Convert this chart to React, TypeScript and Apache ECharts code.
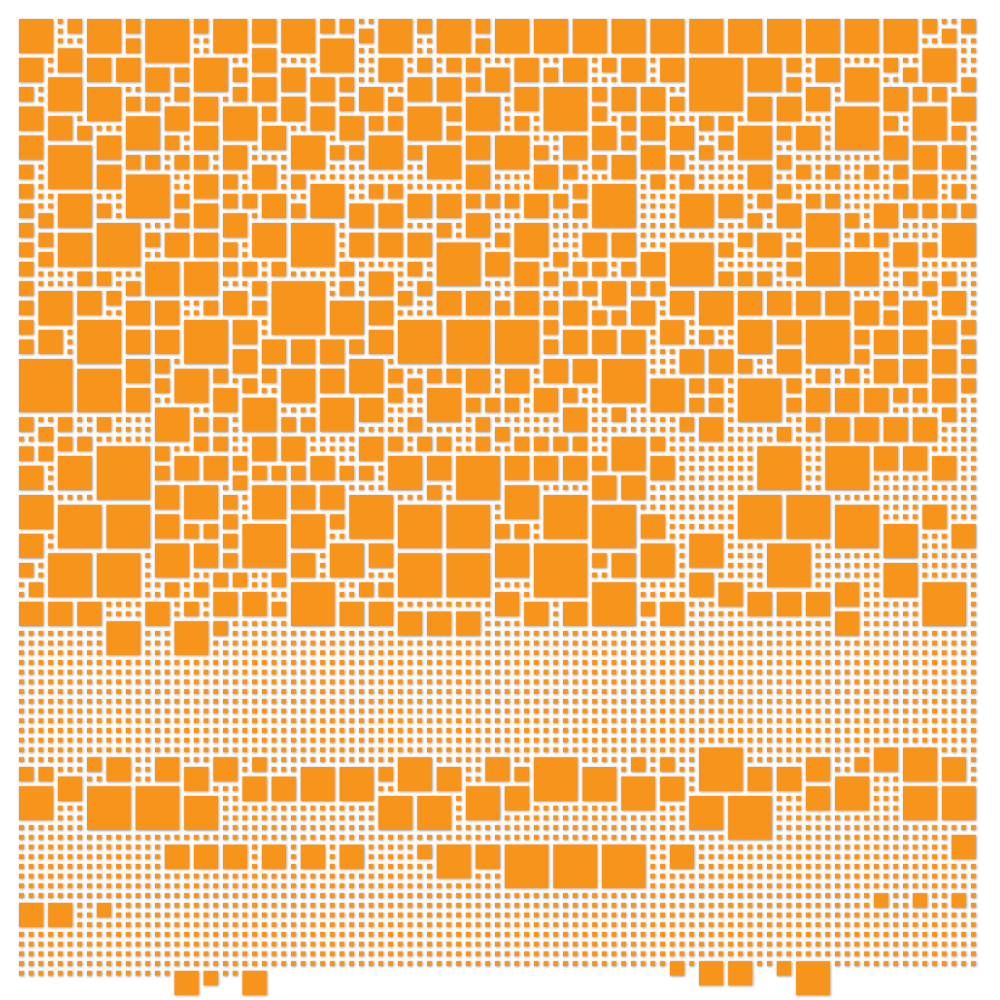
import React, { useEffect, useRef } from "react";
import * as echarts from "echarts";

// Grid geometry (cells)
const GRID_COLS = 99;
const FULL_ROWS = 98; // rows 0..97 fully filled with unit squares where free
const LAST_ROW = 98;
const LAST_ROW_UNIT_RANGES: [number, number][] = [[0, 15], [21, 22]];

// Larger squares: [col, row, size]
const squaresA: number[][] = [
  [0,0,4],[5,0,2],[7,0,4],[11,0,2],[11,2,2],[13,0,5],[18,0,2],[20,0,4],[24,0,3],[27,0,4],[31,0,2],[31,2,4],[24,3,3],[0,4,3],[4,3,3],[7,4,3],[10,4,3],[13,5,3],[16,5,2],[16,7,2],[18,4,4],[22,5,2],[22,7,2],[24,6,3],[27,5,3],[30,6,3],[0,7,2],[3,6,4],[7,7,4],[11,8,2],[13,8,2],[15,9,3],[18,8,3],[21,9,4],[25,9,2],[27,8,3],[30,9,3],[0,9,3],[3,10,3],[6,11,2],[11,10,4],[15,12,2],[18,11,3],[21,13,3],[25,11,3],[28,12,4],[32,13,2],[0,12,3],[3,13,5],[8,12,3],[11,14,2],[13,14,2],[16,14,2],[18,14,2],[24,15,3],[28,16,2],[30,17,4],[0,15,2],[8,15,3],[11,16,5],[18,16,3],[21,16,2],[0,17,2],[4,18,4],[8,19,2],[16,18,2],[18,19,3],[21,18,2],[23,18,2],[25,18,3],[28,19,2],[0,19,2],[2,20,2],[0,21,2],[8,21,5],[16,20,2],[21,20,3],[24,21,4],[28,21,5],
  [0,23,2],[2,22,2],[2,24,2],[4,22,4],[13,22,2],[15,22,3],[18,22,3],[21,23,2],[0,25,2],[6,26,2],[8,26,2],[13,25,4],[17,25,4],[21,25,2],[23,25,2],[26,25,2],[0,27,2],[11,27,2],[24,27,2],[26,27,6],[0,29,2],[2,28,4],[6,28,3],[9,28,2],[11,29,3],[14,29,3],[19,29,2],[21,28,3],[24,29,2],[0,31,2],[6,31,5],[11,32,3],[14,32,3],[17,31,5],[22,31,3],[0,33,2],[2,32,3],[25,33,3],[28,33,3],[31,33,3],[22,34,3],[0,35,6],[6,36,5],[11,35,3],[14,35,2],[11,38,3],[14,37,2],[16,36,4],[20,36,2],[20,38,3],[23,37,2],[25,36,2],[27,36,4],[31,36,3],[23,39,4],[14,40,4],[18,41,2],[20,41,2],[27,41,2],[29,41,2],[31,39,4],[0,41,2],[2,42,2],[4,41,2],[8,41,2],
  [0,44,2],[2,44,2],[4,43,2],[6,43,2],[8,44,6],[14,44,2],[18,43,2],[20,43,2],[24,43,3],[27,43,3],[0,46,3],[4,45,4],[14,46,2],[16,45,3],[19,45,3],[22,45,2],[22,47,2],[24,46,2],[26,46,2],[28,46,2],[30,45,3],[0,49,4],[4,50,5],[9,50,5],[14,48,3],[17,48,4],[21,49,2],[24,48,4],[28,48,3],[31,48,3],[14,51,3],[17,52,2],[19,52,2],[21,51,2],[21,53,2],[23,52,5],[28,51,4],[32,51,2],[0,53,3],[0,56,2],[3,55,5],[8,55,5],[14,54,4],[18,54,3],[21,55,2],[20,57,2],[22,57,2],[26,57,2],[28,55,3],[32,54,4],[1,58,2],[0,60,3],[3,60,3],[6,60,3],[9,62,4],[13,60,3],[15,58,2],[18,58,2],[17,60,2],[20,59,3],[23,59,3],[26,60,2],[28,58,5],[16,62,4],[20,62,2],
];

const squaresB: number[][] = [
  [33,0,2],[35,1,2],[37,0,4],[41,0,2],[43,0,4],[47,0,2],[47,2,2],[49,0,4],[53,0,4],[57,0,4],[61,0,4],[65,0,4],[37,4,3],[41,4,2],[44,4,2],[46,4,2],[48,5,3],[51,4,3],[54,5,2],[56,4,3],[60,4,2],[62,4,3],[33,6,2],[33,8,2],[35,7,3],[38,8,2],[40,6,3],[43,6,3],[46,6,2],[46,8,4],[51,7,3],[54,7,5],[59,7,2],[59,9,2],[61,7,3],[64,7,3],[33,10,3],[36,10,2],[38,10,2],[40,9,4],[44,9,2],[44,11,2],[51,10,2],[62,10,2],[64,10,3],[34,13,2],[36,12,4],[40,13,2],[42,13,4],[46,12,3],[49,12,4],[53,13,2],[56,12,3],[59,11,3],[62,12,2],[59,14,2],[61,14,3],[64,13,3],[46,15,3],[53,15,3],[56,15,2],[59,17,5],[36,17,2],[38,17,2],[57,17,2],[65,16,2],[34,19,3],[37,19,3],[40,18,3],[43,18,3],[46,18,2],[48,18,2],[50,18,2],[52,18,3],[55,18,2],[57,19,2],[46,20,3],[43,21,2],
  [34,22,3],[37,22,3],[40,22,3],[43,23,5],[48,24,3],[49,22,2],[51,21,4],[55,24,2],[58,22,3],[61,22,3],[64,24,3],[33,25,2],[36,26,3],[33,27,2],[40,25,2],[41,27,2],[39,28,2],[51,25,3],[54,26,2],[57,25,2],[59,25,2],[62,25,2],[43,28,3],[46,28,3],[49,29,2],[51,28,3],[54,29,2],[56,27,2],[58,27,2],[60,27,3],[63,27,2],[65,27,2],[56,29,3],[59,30,2],[61,30,2],[63,29,3],[32,29,4],[36,29,3],[39,31,5],[44,31,5],[49,31,5],[54,31,2],[54,33,2],[56,32,3],[59,32,3],[62,32,3],[34,33,2],[36,32,3],[34,35,4],[38,36,2],[38,38,2],[40,37,2],[42,36,2],[44,36,2],[42,38,4],[46,36,3],[50,36,3],[54,35,3],[57,35,3],[60,35,5],[53,38,3],[56,38,2],[46,39,2],[48,39,2],[50,39,2],[56,40,3],[61,40,2],[35,39,3],[40,41,2],[47,41,2],[49,42,2],
  [35,43,3],[38,43,2],[41,43,2],[43,43,2],[47,43,2],[51,43,2],[53,43,2],[55,43,2],[57,43,2],[61,43,4],[65,43,2],[33,46,2],[35,46,2],[38,45,4],[42,45,3],[45,45,5],[50,45,3],[53,45,3],[56,45,3],[59,45,2],[59,47,3],[62,47,3],[65,45,3],[34,49,5],[42,48,2],[50,48,4],[54,49,5],[59,50,5],[64,51,3],[39,50,5],[44,50,5],[49,52,2],[51,52,2],[32,51,2],[32,54,4],[36,54,3],[39,55,5],[44,55,5],[49,54,4],[53,54,6],[59,55,2],[61,55,3],[59,58,5],[35,58,2],[37,58,2],[33,60,3],[36,60,3],[39,61,3],[42,61,3],[45,61,3],[49,59,3],[52,60,3],[56,60,3],[64,60,2],
];

const squaresC: number[][] = [
  [69,0,4],[73,0,4],[77,0,4],[81,0,4],[85,0,4],[89,0,4],[93,0,2],[95,1,2],[97,0,2],[66,4,3],[69,4,6],[75,4,4],[79,4,2],[79,6,2],[82,4,3],[85,5,4],[89,4,2],[91,5,2],[93,3,4],[97,6,2],[67,8,2],[75,8,3],[78,8,3],[81,7,3],[89,7,3],[92,7,2],[94,7,2],[96,8,3],[84,9,5],[92,9,4],[70,10,2],[72,10,2],[67,11,3],[70,13,2],[72,12,2],[74,11,4],[78,11,2],[78,14,2],[80,11,3],[89,10,2],[89,12,3],[92,13,3],[95,13,3],[96,11,2],[67,14,2],[68,16,2],[75,15,3],[80,15,2],[83,15,2],[87,15,2],[90,15,2],[92,16,3],[96,17,2],[78,17,2],[90,17,2],[68,18,4],[72,18,3],[76,18,2],[75,20,2],[78,19,3],[81,18,2],[83,18,2],[81,20,4],[85,20,2],[88,19,3],[91,19,2],[93,19,2],[95,19,2],[97,19,2],
  [67,23,5],[72,23,2],[74,22,2],[76,22,3],[79,23,2],[81,24,4],[85,24,4],[86,22,2],[88,22,2],[90,23,3],[93,23,2],[95,21,4],[72,26,2],[74,26,2],[76,26,2],[79,25,2],[67,28,3],[70,28,4],[74,28,3],[77,28,3],[80,28,3],[83,28,3],[86,29,3],[89,28,2],[89,30,2],[91,29,3],[95,28,3],[91,26,2],[93,27,2],[95,26,2],[66,31,3],[70,32,2],[74,31,4],[78,31,3],[81,31,5],[86,32,2],[86,34,2],[88,32,3],[91,32,3],[94,31,3],[97,31,2],[97,33,2],[68,34,3],[71,34,3],[74,35,2],[78,34,3],[82,36,2],[85,36,2],[88,35,3],[91,35,3],[94,34,3],[97,35,2],[65,37,4],[69,37,2],[71,37,2],[69,39,2],[71,39,2],[74,37,5],[79,37,2],[79,39,2],[81,38,3],[84,38,3],[87,38,3],[90,38,2],[92,38,2],[94,37,3],[97,37,2],[95,40,2],[68,41,2],[70,41,3],[78,42,2],[81,41,2],[83,41,3],[86,41,3],[89,41,3],[92,41,3],
  [76,44,5],[83,44,5],[88,44,3],[91,44,3],[94,45,3],[74,49,5],[79,49,5],[84,50,5],[89,52,4],[93,50,3],[96,52,3],[64,54,4],[69,53,4],[77,54,5],[89,56,4],[69,57,3],[72,58,3],[75,59,3],[78,59,3],[81,59,3],[84,58,3],[84,61,3],[93,58,5],[66,60,3],
];

const squaresBottom: number[][] = [
  [0,77,2],[2,77,2],[7,76,2],[24,76,2],[37,77,2],[51,77,2],[63,76,2],[66,76,2],[86,76,2],
  [4,78,3],[9,76,3],[14,76,3],[17,77,3],[20,76,3],[29,77,4],[33,77,4],[39,76,4],[43,77,3],[48,76,3],[53,76,5],[58,77,4],[62,78,4],[66,78,3],[70,75,5],[75,77,3],[78,77,3],[81,76,3],[84,78,4],[88,75,3],[91,75,4],[95,76,3],
  [0,79,4],[7,79,5],[12,79,5],[17,80,4],[23,78,3],[26,78,3],[37,80,4],[41,80,4],[46,79,4],[50,79,3],[69,80,4],[73,80,5],[81,79,3],[91,79,4],[95,79,4],
  [15,85,3],[18,85,3],[21,85,3],[25,85,3],[29,85,3],[33,85,3],[41,85,2],[43,85,4],[47,85,3],[50,85,5],[55,85,5],[60,85,5],[67,85,3],[96,84,3],
  [88,90,2],[92,90,2],[96,90,2],[0,91,3],[3,91,3],[8,91,2],
  [16,98,3],[19,98,2],[23,98,3],[67,97,2],[70,97,3],[73,97,3],[78,97,2],[80,97,4],
];

const PITCH = 9.714;
const GAP = 4.86;
const COLOR = "#F7941D";

function buildData(): number[][] {
  const rows = 104;
  const occ: boolean[][] = Array.from({ length: rows }, () => new Array(GRID_COLS).fill(false));
  const out: number[][] = [];
  const all = [...squaresA, ...squaresB, ...squaresC, ...squaresBottom];
  for (const [c, r, k] of all) {
    if (c + k > GRID_COLS) continue;
    let free = true;
    for (let y = r; y < r + k && free; y++)
      for (let x = c; x < c + k; x++) if (occ[y][x]) { free = false; break; }
    if (!free) continue;
    for (let y = r; y < r + k; y++) for (let x = c; x < c + k; x++) occ[y][x] = true;
    out.push([c, r, k]);
  }
  for (let r = 0; r < FULL_ROWS; r++)
    for (let c = 0; c < GRID_COLS; c++) if (!occ[r][c]) { occ[r][c] = true; out.push([c, r, 1]); }
  for (const [a, b] of LAST_ROW_UNIT_RANGES)
    for (let c = a; c <= b; c++) if (!occ[LAST_ROW][c]) { occ[LAST_ROW][c] = true; out.push([c, LAST_ROW, 1]); }
  return out;
}

export default function App() {
  const ref = useRef<HTMLDivElement>(null);
  useEffect(() => {
    if (!ref.current) return;
    const chart = echarts.init(ref.current, undefined, { renderer: "svg" });
    const data = buildData();
    chart.setOption({
      animation: false,
      backgroundColor: "#ffffff",
      grid: { left: 19, top: 19, width: GRID_COLS * PITCH, height: 101 * PITCH },
      xAxis: { type: "value", min: 0, max: GRID_COLS, show: false },
      yAxis: { type: "value", min: 0, max: 101, inverse: true, show: false },
      series: [
        {
          type: "custom",
          data,
          clip: false,
          renderItem: (params: any, api: any) => {
            const c = api.value(0), r = api.value(1), k = api.value(2);
            const p0 = api.coord([c, r]);
            const p1 = api.coord([c + k, r + k]);
            return {
              type: "rect",
              shape: { x: p0[0], y: p0[1], width: p1[0] - p0[0] - GAP, height: p1[1] - p0[1] - GAP },
              style: {
                fill: COLOR,
                shadowColor: "rgba(0,0,0,0.45)",
                shadowBlur: 2,
                shadowOffsetX: 0.6,
                shadowOffsetY: 0.6,
              },
            };
          },
        },
      ],
    });
    return () => chart.dispose();
  }, []);
  return <div ref={ref} style={{ position: "fixed", left: 0, top: 0, width: 1000, height: 1000 }} />;
}
